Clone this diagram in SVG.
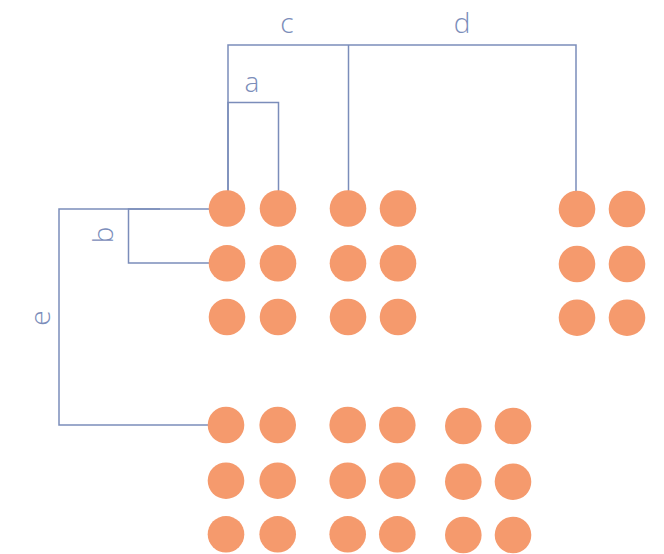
<svg xmlns="http://www.w3.org/2000/svg" width="664" height="554" viewBox="0 0 664 554">
<style>
.ln{fill:none;stroke:#7b8dba;stroke-width:1.5}
.lb{font-family:"Open Sans","Liberation Sans",sans-serif;font-weight:300;font-size:28px;fill:#7b8dba;text-anchor:middle}
.n{fill:#f59a6d}
</style>
<rect width="664" height="554" fill="#ffffff"/>
<g id="connectors">
<polyline class="ln" points="228,208 228,45 576,45 576,208"/>
<line class="ln" x1="348.5" y1="45" x2="348.5" y2="208"/>
<polyline class="ln" points="228,208 228,102.5 278.5,102.5 278.5,208"/>
<polyline class="ln" points="209,209 128.5,209 128.5,263 209,263"/>
<polyline class="ln" points="160,209 59,209 59,425 209,425"/>
<text class="lb" x="287" y="33">c</text>
<text class="lb" x="462" y="33">d</text>
<text class="lb" x="252" y="92">a</text>
<text class="lb" transform="translate(113,235) rotate(-90)">b</text>
<text class="lb" transform="translate(50,318) rotate(-90)">e</text>
</g>
<g id="n1"><circle class="n" cx="227" cy="208.5" r="18.3"/></g>
<g id="n2"><circle class="n" cx="278" cy="208.5" r="18.3"/></g>
<g id="n3"><circle class="n" cx="227" cy="263.3" r="18.3"/></g>
<g id="n4"><circle class="n" cx="278" cy="263.3" r="18.3"/></g>
<g id="n5"><circle class="n" cx="227" cy="317" r="18.3"/></g>
<g id="n6"><circle class="n" cx="278" cy="317" r="18.3"/></g>
<g id="n7"><circle class="n" cx="348" cy="208.5" r="18.3"/></g>
<g id="n8"><circle class="n" cx="398" cy="208.5" r="18.3"/></g>
<g id="n9"><circle class="n" cx="348" cy="263.3" r="18.3"/></g>
<g id="n10"><circle class="n" cx="398" cy="263.3" r="18.3"/></g>
<g id="n11"><circle class="n" cx="348" cy="317" r="18.3"/></g>
<g id="n12"><circle class="n" cx="398" cy="317" r="18.3"/></g>
<g id="n13"><circle class="n" cx="577" cy="209" r="18.3"/></g>
<g id="n14"><circle class="n" cx="627" cy="209" r="18.3"/></g>
<g id="n15"><circle class="n" cx="577" cy="264" r="18.3"/></g>
<g id="n16"><circle class="n" cx="627" cy="264" r="18.3"/></g>
<g id="n17"><circle class="n" cx="577" cy="317.7" r="18.3"/></g>
<g id="n18"><circle class="n" cx="627" cy="317.7" r="18.3"/></g>
<g id="n19"><circle class="n" cx="226" cy="425" r="18.3"/></g>
<g id="n20"><circle class="n" cx="277.7" cy="425" r="18.3"/></g>
<g id="n21"><circle class="n" cx="226" cy="480.7" r="18.3"/></g>
<g id="n22"><circle class="n" cx="277.7" cy="480.7" r="18.3"/></g>
<g id="n23"><circle class="n" cx="226" cy="534.3" r="18.3"/></g>
<g id="n24"><circle class="n" cx="277.7" cy="534.3" r="18.3"/></g>
<g id="n25"><circle class="n" cx="347.7" cy="425" r="18.3"/></g>
<g id="n26"><circle class="n" cx="397.3" cy="425" r="18.3"/></g>
<g id="n27"><circle class="n" cx="347.7" cy="480.7" r="18.3"/></g>
<g id="n28"><circle class="n" cx="397.3" cy="480.7" r="18.3"/></g>
<g id="n29"><circle class="n" cx="347.7" cy="534.3" r="18.3"/></g>
<g id="n30"><circle class="n" cx="397.3" cy="534.3" r="18.3"/></g>
<g id="n31"><circle class="n" cx="463.3" cy="426" r="18.3"/></g>
<g id="n32"><circle class="n" cx="513" cy="426" r="18.3"/></g>
<g id="n33"><circle class="n" cx="463.3" cy="481.7" r="18.3"/></g>
<g id="n34"><circle class="n" cx="513" cy="481.7" r="18.3"/></g>
<g id="n35"><circle class="n" cx="463.3" cy="535" r="18.3"/></g>
<g id="n36"><circle class="n" cx="513" cy="535" r="18.3"/></g>
</svg>
